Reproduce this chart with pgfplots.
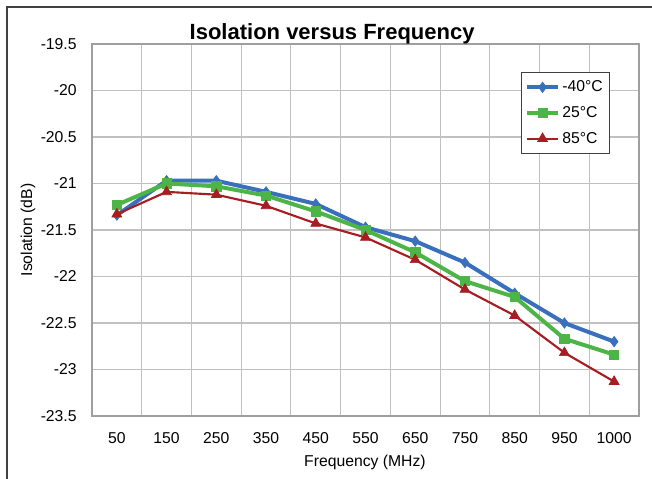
\documentclass[border=0pt]{standalone}
\usepackage{fontspec}
\setmainfont{Liberation Sans}
\usepackage{pgfplots}
\pgfplotsset{compat=1.18}
\definecolor{cblue}{HTML}{3A6FBD}
\definecolor{cgreen}{HTML}{4DB548}
\definecolor{cred}{HTML}{A61E22}
\definecolor{gridc}{HTML}{C0C0C0}
\definecolor{framec}{HTML}{404040}

\begin{document}
\begin{tikzpicture}
\useasboundingbox (-69pt,-46.5pt) rectangle (420pt,312pt);
\draw[line width=0.9pt, color=framec] (-63.75pt,-50pt) -- (-63.75pt,306.75pt) -- (425pt,306.75pt);
\begin{axis}[
  at={(0pt,0pt)}, anchor=south west,
  scale only axis,
  width=410.25pt, height=279pt,
  xmin=-0.5, xmax=10.5,
  ymin=-23.5, ymax=-19.5,
  xtick={0,1,...,10},
  xticklabels={50,150,250,350,450,550,650,750,850,950,1000},
  minor xtick={-0.5,0.5,...,10.5},
  xminorgrids=true, xmajorgrids=false,
  ytick={-23.5,-23,...,-19.5},
  yticklabels={-23.5,-23,-22.5,-22,-21.5,-21,-20.5,-20,-19.5},
  ymajorgrids=true,
  tick style={draw=none},
  minor tick style={draw=none},
  grid style={color=gridc, line width=0.8pt},
  minor grid style={color=gridc, line width=0.8pt},
  axis line style={color=gray!75, line width=0.8pt},
  tick label style={font=\fontsize{11.8}{14}\selectfont},
  yticklabel style={xshift=-8pt},
  xticklabel style={yshift=-9pt},
  xlabel={Frequency (MHz)},
  ylabel={Isolation (dB)},
  x label style={at={(axis description cs:0.499,-0.124)}, anchor=center, font=\fontsize{11.8}{14}\selectfont},
  y label style={at={(axis description cs:-0.117,0.5)}, anchor=center, font=\fontsize{11.8}{14}\selectfont},
  title={Isolation versus Frequency},
  title style={at={(axis description cs:0.439,1.005)}, anchor=center, font=\fontsize{16.5}{19}\selectfont\bfseries},
  legend style={at={(0.784,0.924)}, anchor=north west, draw=framec, line width=0.8pt,
    font=\fontsize{11.8}{14}\selectfont, row sep=5.5pt, inner xsep=3pt, inner ysep=4pt},
  legend cell align=left,
  legend image code/.code={\draw[mark repeat=2,mark phase=2,#1] plot coordinates {(0cm,0cm) (0.4cm,0cm) (0.8cm,0cm)};},
]
\addplot[color=cblue, line width=3pt, mark=diamond*, mark size=3.9pt, mark options={line width=0.5pt}] coordinates {
  (0,-21.34) (1,-20.97) (2,-20.97) (3,-21.09) (4,-21.22) (5,-21.47)
  (6,-21.62) (7,-21.85) (8,-22.18) (9,-22.50) (10,-22.70)
};
\addplot[color=cgreen, line width=3pt, mark=square*, mark size=3.5pt, mark options={line width=0.5pt}] coordinates {
  (0,-21.23) (1,-21.00) (2,-21.03) (3,-21.13) (4,-21.30) (5,-21.50)
  (6,-21.74) (7,-22.05) (8,-22.22) (9,-22.67) (10,-22.84)
};
\addplot[color=cred, line width=1.6pt, mark=triangle*, mark size=4.3pt, mark options={line width=0.5pt}] coordinates {
  (0,-21.33) (1,-21.09) (2,-21.12) (3,-21.24) (4,-21.43) (5,-21.58)
  (6,-21.82) (7,-22.14) (8,-22.42) (9,-22.82) (10,-23.13)
};
\legend{-40°C, 25°C, 85°C}
\end{axis}
\end{tikzpicture}
\end{document}
